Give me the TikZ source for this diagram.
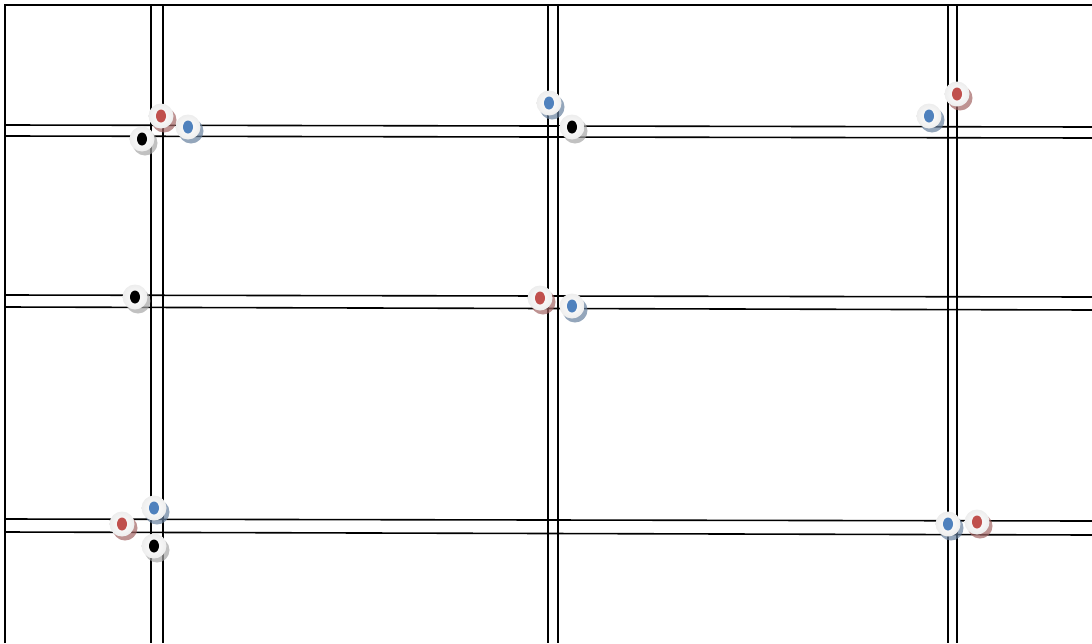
\documentclass[tikz,border=0pt]{standalone}
\usepackage{tikz}
\usetikzlibrary{shadows}
\definecolor{pinred}{HTML}{C0504D}
\definecolor{pinblue}{HTML}{4F81BD}
\tikzset{
  wall/.style   ={draw=black, line width=1.6pt},
  pin/.style    ={circle, minimum size=25pt, inner sep=0pt, inner color=white, outer color=gray!14, draw=none},
  redpin/.style ={pin, drop shadow={shadow xshift=3pt, shadow yshift=-4pt, fill=pinred!55!gray, opacity=0.7},
                  path picture={\fill[pinred] (path picture bounding box.center) ellipse (5pt and 6.5pt);}},
  bluepin/.style={pin, drop shadow={shadow xshift=3pt, shadow yshift=-4pt, fill=pinblue!50!gray, opacity=0.7},
                  path picture={\fill[pinblue] (path picture bounding box.center) ellipse (5pt and 6.5pt);}},
  blackpin/.style={pin, drop shadow={shadow xshift=3pt, shadow yshift=-4pt, fill=gray!70, opacity=0.7},
                  path picture={\fill[black] (path picture bounding box.center) ellipse (5pt and 6.5pt);}},
}

\begin{document}
\begin{tikzpicture}[x=1pt,y=-1pt]
  \useasboundingbox (0,0) rectangle (1092,643);
  % outer frame
  \draw[wall] (5,643) -- (5,5) -- (1092,5);
  % vertical double lines
  \foreach \xa/\xb in {151/163, 548/558, 948/957}{
    \draw[wall] (\xa,5) -- (\xa,643);
    \draw[wall] (\xb,5) -- (\xb,643);
  }
  % horizontal double lines
  \draw[wall] (5,125) -- (1092,127);
  \draw[wall] (5,136) -- (1092,138);
  \draw[wall] (5,295) -- (1092,297);
  \draw[wall] (5,307) -- (1092,310);
  \draw[wall] (5,519) -- (1092,521);
  \draw[wall] (5,532) -- (1092,535);

  % pins
  \node[blackpin] (k1) at (142,139) {};
  \node[redpin]   (r1) at (161,116) {};
  \node[bluepin]  (b1) at (188,127) {};
  \node[bluepin]  (b2) at (549,103) {};
  \node[blackpin] (k2) at (572,127) {};
  \node[bluepin]  (b3) at (929,116) {};
  \node[redpin]   (r3) at (957,94) {};
  \node[blackpin] (k4) at (135,297) {};
  \node[redpin]   (r5) at (540,298) {};
  \node[bluepin]  (b5) at (572,306) {};
  \node[redpin]   (r7) at (122,524) {};
  \node[bluepin]  (b7) at (154,508) {};
  \node[blackpin] (k7) at (154,546) {};
  \node[bluepin]  (b9) at (948,524) {};
  \node[redpin]   (r9) at (977,522) {};
\end{tikzpicture}
\end{document}
